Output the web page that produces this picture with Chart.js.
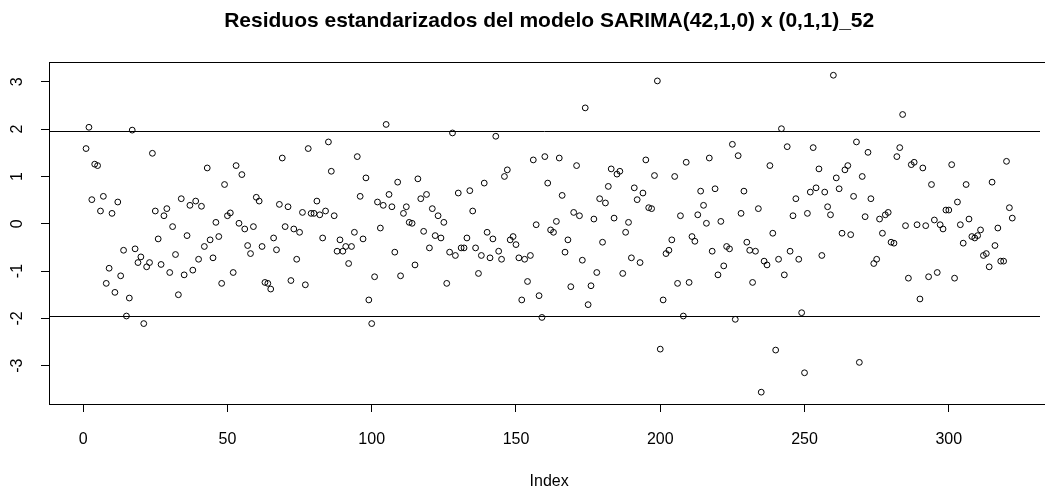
<!DOCTYPE html>
<html>
<head>
<meta charset="utf-8">
<title>Residuos estandarizados</title>
<script src="https://cdn.jsdelivr.net/npm/chart.js@4.4.1/dist/chart.umd.min.js"></script>
<style>
  html, body { margin: 0; padding: 0; background: #fff; }
  canvas { display: block; }
</style>
</head>
<body>
<canvas id="residChart" width="1045" height="492"></canvas>
<script>
// standardized residuals (index 1..322)
const residuals = [
    1.59, 2.04, 0.51, 1.26, 1.23, 0.27, 0.58, -1.26, -0.94, 0.22,
    -1.45, 0.46, -1.10, -0.56, -1.95, -1.57, 1.98, -0.53, -0.82, -0.70,
    -2.11, -0.91, -0.82, 1.49, 0.27, -0.32, -0.86, 0.17, 0.32, -1.03,
    -0.06, -0.65, -1.50, 0.53, -1.08, -0.25, 0.39, -0.98, 0.48, -0.75,
    0.37, -0.48, 1.18, -0.34, -0.72, 0.03, -0.27, -1.26, 0.83, 0.17,
    0.23, -1.03, 1.23, 0.01, 1.04, -0.11, -0.46, -0.63, -0.06, 0.56,
    0.48, -0.48, -1.24, -1.26, -1.38, -0.30, -0.55, 0.41, 1.39, -0.06,
    0.36, -1.20, -0.11, -0.75, -0.18, 0.24, -1.29, 1.59, 0.22, 0.22,
    0.48, 0.19, -0.30, 0.27, 1.73, 1.11, 0.17, -0.58, -0.34, -0.58,
    -0.48, -0.84, -0.48, -0.18, 1.42, 0.58, -0.32, 0.97, -1.61, -2.11,
    -1.12, 0.46, -0.09, 0.39, 2.10, 0.62, 0.36, -0.60, 0.88, -1.10,
    0.22, 0.36, 0.03, 0.01, -0.87, 0.95, 0.53, -0.16, 0.62, -0.51,
    0.32, -0.25, 0.17, -0.30, 0.03, -1.26, -0.60, 1.92, -0.67, 0.65,
    -0.51, -0.51, -0.30, 0.70, 0.27, -0.51, -1.05, -0.67, 0.86, -0.18,
    -0.72, -0.32, 1.85, -0.58, -0.75, 1.00, 1.14, -0.34, -0.27, -0.44,
    -0.72, -1.61, -0.75, -1.22, -0.67, 1.35, -0.02, -1.52, -1.98, 1.42,
    0.86, -0.13, -0.18, 0.05, 1.39, 0.60, -0.60, -0.34, -1.33, 0.24,
    1.23, 0.17, -0.77, 2.45, -1.71, -1.31, 0.10, -1.03, 0.53, -0.39,
    0.44, 0.79, 1.16, 0.12, 1.05, 1.11, -1.05, -0.18, 0.03, -0.72,
    0.76, 0.51, -0.82, 0.65, 1.35, 0.34, 0.32, 1.02, 3.02, -2.65,
    -1.61, -0.63, -0.56, -0.34, 1.00, -1.26, 0.17, -1.95, 1.30, -1.24,
    -0.27, -0.37, 0.19, 0.69, 0.39, 0.01, 1.39, -0.58, 0.74, -1.08,
    0.05, -0.89, -0.48, -0.53, 1.68, -2.02, 1.44, 0.22, 0.69, -0.39,
    -0.56, -1.24, -0.58, 0.32, -3.56, -0.79, -0.87, 1.23, -0.20, -2.67,
    -0.75, 2.01, -1.08, 1.63, -0.58, 0.17, 0.53, -0.75, -1.88, -3.15,
    0.22, 0.67, 1.61, 0.76, 1.16, -0.67, 0.67, 0.36, 0.19, 3.14,
    0.97, 0.74, -0.20, 1.14, 1.23, -0.23, 0.58, 1.73, -2.93, 1.00,
    0.15, 1.51, 0.53, -0.84, -0.75, 0.10, -0.20, 0.19, 0.24, -0.39,
    -0.41, 1.42, 1.61, 2.31, -0.04, -1.15, 1.25, 1.30, -0.02, -1.59,
    1.18, -0.04, -1.12, 0.83, 0.08, -1.03, -0.02, -0.11, 0.29, 0.29,
    1.25, -1.15, 0.46, -0.02, -0.41, 0.83, 0.10, -0.27, -0.30, -0.25,
    -0.13, -0.67, -0.63, -0.91, 0.88, -0.46, -0.09, -0.79, -0.79, 1.32,
    0.34, 0.12
];
const xTicks = [0, 50, 100, 150, 200, 250, 300];
const yTicks = [-3, -2, -1, 0, 1, 2, 3];
const refLines = [1.96, -1.96];

const titleText = "Residuos estandarizados del modelo SARIMA(42,1,0) x (0,1,1)_52";
const xLabel = "Index";
const fontFamily = "'Liberation Sans', Arial, sans-serif";

const n = residuals.length;
const points = residuals.map((v, i) => ({ x: i + 1, y: v }));
// R-style 4% padding on the left; the right side is cut by the picture edge
const xMin = 1 - 0.04 * (n - 1);
const xMid = (1 + n) / 2;

const decorations = {
    id: "decorations",
    beforeDatasetsDraw(chart) {
        const { ctx, chartArea } = chart;
        const yScale = chart.scales.y;
        ctx.save();
        ctx.strokeStyle = "#000";
        ctx.lineWidth = 1;
        // plot box (right edge falls outside the canvas)
        ctx.strokeRect(Math.round(chartArea.left) + 0.5, Math.round(chartArea.top) + 0.5,
            chartArea.right - chartArea.left + 20, Math.round(chartArea.bottom - chartArea.top));
        // +/- 1.96 reference lines
        refLines.forEach((v) => {
            const py = Math.round(yScale.getPixelForValue(v)) + 0.5;
            ctx.beginPath();
            ctx.moveTo(chartArea.left, py);
            ctx.lineTo(chartArea.right, py);
            ctx.stroke();
        });
        ctx.restore();
    },
    afterDraw(chart) {
        const { ctx } = chart;
        const xScale = chart.scales.x;
        const yScale = chart.scales.y;
        const cx = xScale.getPixelForValue(xMid);
        ctx.save();
        ctx.fillStyle = "#000";
        ctx.textAlign = "center";
        ctx.textBaseline = "middle";

        ctx.font = "bold 21px " + fontFamily;
        ctx.fillText(titleText, cx, 21);

        ctx.font = "16px " + fontFamily;
        ctx.fillText(xLabel, cx, 482);

        // y tick labels are drawn rotated, like base R
        yTicks.forEach((v) => {
            ctx.save();
            ctx.translate(18, yScale.getPixelForValue(v));
            ctx.rotate(-Math.PI / 2);
            ctx.fillText(String(v), 0, 0);
            ctx.restore();
        });
        ctx.restore();
    },
};

new Chart(document.getElementById("residChart").getContext("2d"), {
    type: "scatter",
    data: {
        datasets: [{
            data: points,
            pointStyle: "circle",
            pointRadius: 2.9,
            pointBorderWidth: 1,
            pointBorderColor: "#000",
            pointBackgroundColor: "rgba(0,0,0,0)",
        }],
    },
    options: {
        responsive: false,
        animation: false,
        devicePixelRatio: 1,
        layout: { padding: { top: 62, left: 0, right: 0, bottom: 0 } },
        plugins: {
            legend: { display: false },
            title: { display: false },
            tooltip: { enabled: false },
        },
        scales: {
            x: {
                type: "linear",
                min: xMin,
                max: xMin + 996 / 2.9,
                afterBuildTicks: (scale) => { scale.ticks = xTicks.map((v) => ({ value: v })); },
                afterFit: (scale) => { scale.height = 88; },
                grid: { drawOnChartArea: false, drawTicks: true, tickLength: 8, color: "#000" },
                border: { display: false },
                ticks: {
                    color: "#000",
                    padding: 18,
                    maxRotation: 0,
                    font: { family: fontFamily, size: 16 },
                },
            },
            y: {
                type: "linear",
                min: -3.81,
                max: 3.42,
                afterBuildTicks: (scale) => { scale.ticks = yTicks.map((v) => ({ value: v })); },
                afterFit: (scale) => { scale.width = 49; },
                grid: { drawOnChartArea: false, drawTicks: true, tickLength: 8, color: "#000" },
                border: { display: false },
                ticks: { display: false },
            },
        },
    },
    plugins: [decorations],
});
</script>
</body>
</html>
